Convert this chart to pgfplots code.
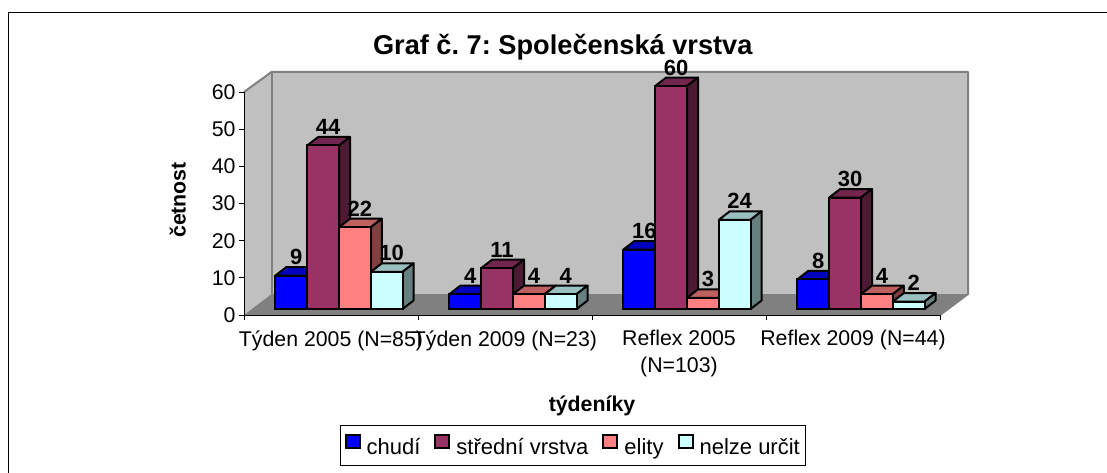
\documentclass[border=0pt]{standalone}
\usepackage{fontspec}
\setmainfont{Liberation Sans}
\usepackage{pgfplots}
\usepackage{pgfplotstable}
\pgfplotsset{compat=1.18}

\definecolor{wall}{HTML}{C0C0C0}
\definecolor{floorc}{HTML}{808080}
\definecolor{cA}{HTML}{0000FF}\definecolor{cAt}{HTML}{0000BF}\definecolor{cAs}{HTML}{000080}
\definecolor{cB}{HTML}{993366}\definecolor{cBt}{HTML}{73264D}\definecolor{cBs}{HTML}{4D1A33}
\definecolor{cC}{HTML}{FF8080}\definecolor{cCt}{HTML}{BF6060}\definecolor{cCs}{HTML}{804040}
\definecolor{cD}{HTML}{CCFFFF}\definecolor{cDt}{HTML}{99BFBF}\definecolor{cDs}{HTML}{668080}

\pgfplotstableread{
x   chudi stredni elity nelze
0.5 9     44      22    10
1.5 4     11      4     4
2.5 16    60      3     24
3.5 8     30      4     2
}\data

% a whole 3D bar, drawn round the data point (front top centre of the bar).
% marks go on top of all ybar paths, so the front face has to be part of the mark
\pgfdeclareplotmark{barA}{\barfaces{cA}{cAt}{cAs}}
\pgfdeclareplotmark{barB}{\barfaces{cB}{cBt}{cBs}}
\pgfdeclareplotmark{barC}{\barfaces{cC}{cCt}{cCs}}
\pgfdeclareplotmark{barD}{\barfaces{cD}{cDt}{cDs}}
\newcommand\barfaces[3]{%
  \pgfmathsetmacro\h{\val*223/60}%
  \path[draw=black, line width=2pt, line join=round, fill=#2]
    (-15.9pt,0pt) -- (-4.9pt,8.5pt) -- (26.9pt,8.5pt) -- (15.9pt,0pt) -- cycle;
  \path[draw=black, line width=2pt, line join=round, fill=#3]
    (15.9pt,0pt) -- (26.9pt,8.5pt) -- (26.9pt,8.5pt-\h pt) -- (15.9pt,-\h pt) -- cycle;
  \path[draw=black, line width=2pt, line join=round, fill=#1]
    (-15.9pt,-\h pt) rectangle (15.9pt,0pt);
}
\pgfplotsset{
  depth/.style n args={2}{
    only marks, mark=#2, forget plot,
    visualization depends on={\thisrow{#1} \as \val},
    point meta=\thisrow{#1},
    nodes near coords,
    every node near coord/.style={anchor=base, xshift=5pt, yshift=11pt, text=black,
      font=\fontsize{22}{24}\selectfont\bfseries},
  },
  front/.style={
    ybar, bar width=31.8pt, draw=black, line width=2pt, fill=#1,
    legend image code/.code={
      \draw[fill=#1, draw=black, line width=2pt] (0pt,-6.5pt) rectangle (14pt,6.5pt);
      \path (18pt,0pt);
    },
  },
}

\begin{document}
\frenchspacing
\begin{tikzpicture}[x=1pt, y=1pt]
\path[use as bounding box] (0,0) rectangle (1107,472);
\draw[black, line width=1pt] (8.5,-5) -- (8.5,459.5) -- (1112,459.5);

% walls and floor of the 3D box
\fill[wall] (244,380) -- (271.5,400) -- (271.5,178) -- (244,157) -- cycle;
\fill[wall] (271.5,178) rectangle (968,400);
\fill[floorc] (244,157) -- (271.5,178) -- (968,178) -- (940,157) -- cycle;
\draw[floorc, line width=2pt, line join=round]
  (244,380) -- (271.5,400) -- (968,400) -- (968,178) -- (940,157);
\draw[floorc, line width=2pt] (271.5,400) -- (271.5,178);

\begin{axis}[
  at={(244pt,157pt)}, anchor=south west,
  scale only axis, width=696pt, height=223pt,
  xmin=0, xmax=4, ymin=0, ymax=60,
  clip=false,
  axis lines=left,
  axis line style={-, black, line width=1pt},
  tick align=outside,
  tick style={black, line width=1pt},
  major tick length=5pt,
  xtick={0,1,2,3,4},
  x tick label as interval,
  xticklabels={Týden 2005 (N=85),Týden 2009 (N=23),Reflex 2005\\[3pt](N=103),Reflex 2009 (N=44)},
  x tick label style={align=center, yshift=-7pt},
  ytick={0,10,20,30,40,50,60},
  /pgf/number format/assume math mode=true,
  tick label style={font=\fontsize{21.3}{24}\selectfont},
  title={Graf č. 7: Společenská vrstva},
  title style={at={(axis description cs:0.458,1.175)}, anchor=center,
    font=\fontsize{27.2}{32}\selectfont\bfseries},
  xlabel={týdeníky},
  xlabel style={at={(axis description cs:0.5,-0.408)}, anchor=center,
    font=\fontsize{21.3}{24}\selectfont\bfseries},
  ylabel={četnost},
  ylabel style={at={(axis description cs:-0.095,0.516)}, anchor=center,
    font=\fontsize{21.3}{24}\selectfont\bfseries},
  legend columns=4,
  legend cell align=left,
  legend style={at={(axis description cs:0.473,-0.586)}, anchor=center,
    draw=black, line width=1pt, font=\fontsize{22}{24}\selectfont,
    inner xsep=4pt, inner ysep=8pt,
    /tikz/every even column/.style={column sep=12pt}},
]
\addplot[front=cA, bar shift=-47.7pt, xshift=8pt, yshift=6pt] table[x=x, y=chudi] {\data};
\addlegendentry{chudí}
\addplot[front=cB, bar shift=-15.9pt, xshift=8pt, yshift=6pt] table[x=x, y=stredni] {\data};
\addlegendentry{střední vrstva}
\addplot[front=cC, bar shift=15.9pt, xshift=8pt, yshift=6pt] table[x=x, y=elity] {\data};
\addlegendentry{elity}
\addplot[front=cD, bar shift=47.7pt, xshift=8pt, yshift=6pt] table[x=x, y=nelze] {\data};
\addlegendentry{nelze určit}
\addplot[depth={chudi}{barA}, xshift=-39.7pt, yshift=6pt] table[x=x, y=chudi] {\data};
\addplot[depth={stredni}{barB}, xshift=-7.9pt, yshift=6pt] table[x=x, y=stredni] {\data};
\addplot[depth={elity}{barC}, xshift=23.9pt, yshift=6pt] table[x=x, y=elity] {\data};
\addplot[depth={nelze}{barD}, xshift=55.7pt, yshift=6pt] table[x=x, y=nelze] {\data};
\end{axis}
\end{tikzpicture}
\end{document}
